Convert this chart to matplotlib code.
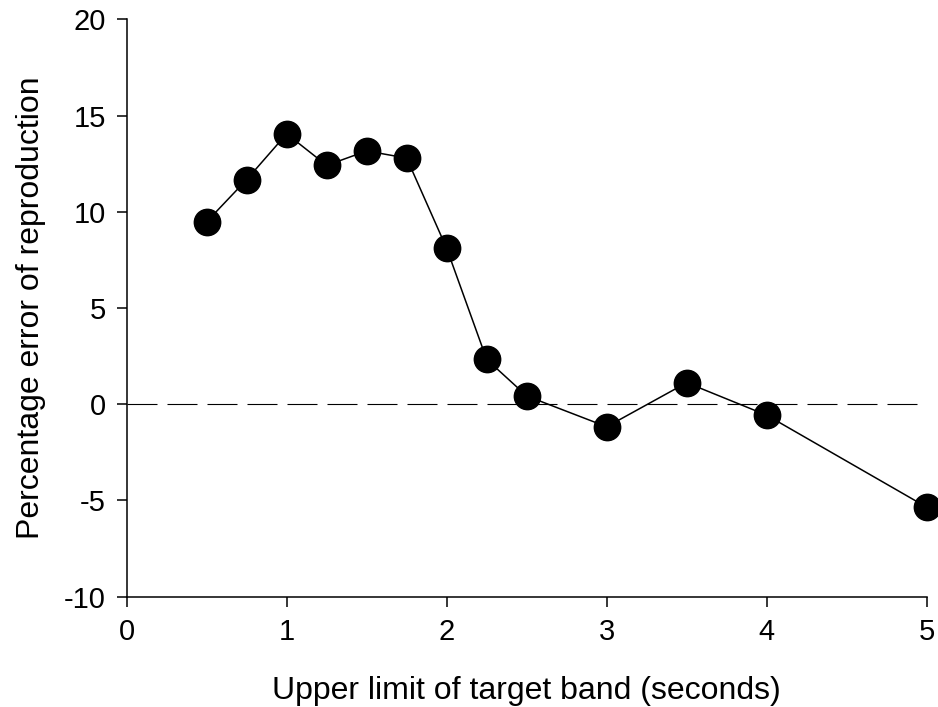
import matplotlib
matplotlib.use("Agg")
import matplotlib.pyplot as plt

# Upper limit of the target band (s) and mean percentage error of reproduction
band_upper = [0.5, 0.75, 1.0, 1.25, 1.5, 1.75, 2.0, 2.25, 2.5, 3.0, 3.5, 4.0, 5.0]
pct_error = [9.48, 11.67, 14.05, 12.41, 13.16, 12.79, 8.10, 2.33, 0.43, -1.17, 1.12, -0.57, -5.35]

x_ticks = [0, 1, 2, 3, 4, 5]
y_ticks = [-10, -5, 0, 5, 10, 15, 20]

plt.rcParams["font.family"] = ["Liberation Sans", "DejaVu Sans"]

fig = plt.figure(figsize=(9.38, 7.07), dpi=100)
ax = fig.add_axes([0.135, 0.156, 0.853, 0.8167])

# zero reference line
ax.plot([0, 5], [0, 0], color="black", lw=0.8, dashes=(27, 9), zorder=1)

ax.plot(band_upper, pct_error, color="black", lw=1.1, marker="o",
        markersize=19, markerfacecolor="black", markeredgecolor="black",
        clip_on=False, zorder=3)

ax.set_xlim(0, 5)
ax.set_ylim(-10, 20)
ax.set_xticks(x_ticks)
ax.set_yticks(y_ticks)
ax.set_xticklabels([str(v) for v in x_ticks])
ax.set_yticklabels([str(v) for v in y_ticks])

for side in ("top", "right"):
    ax.spines[side].set_visible(False)
for side in ("left", "bottom"):
    ax.spines[side].set_linewidth(1.1)

ax.tick_params(direction="out", length=7, width=1.1, labelsize=21, pad=8)
ax.set_xlabel("Upper limit of target band (seconds)", fontsize=23, labelpad=22)
ax.set_ylabel("Percentage error of reproduction", fontsize=23, labelpad=13)

fig.savefig("out.png", dpi=100)
